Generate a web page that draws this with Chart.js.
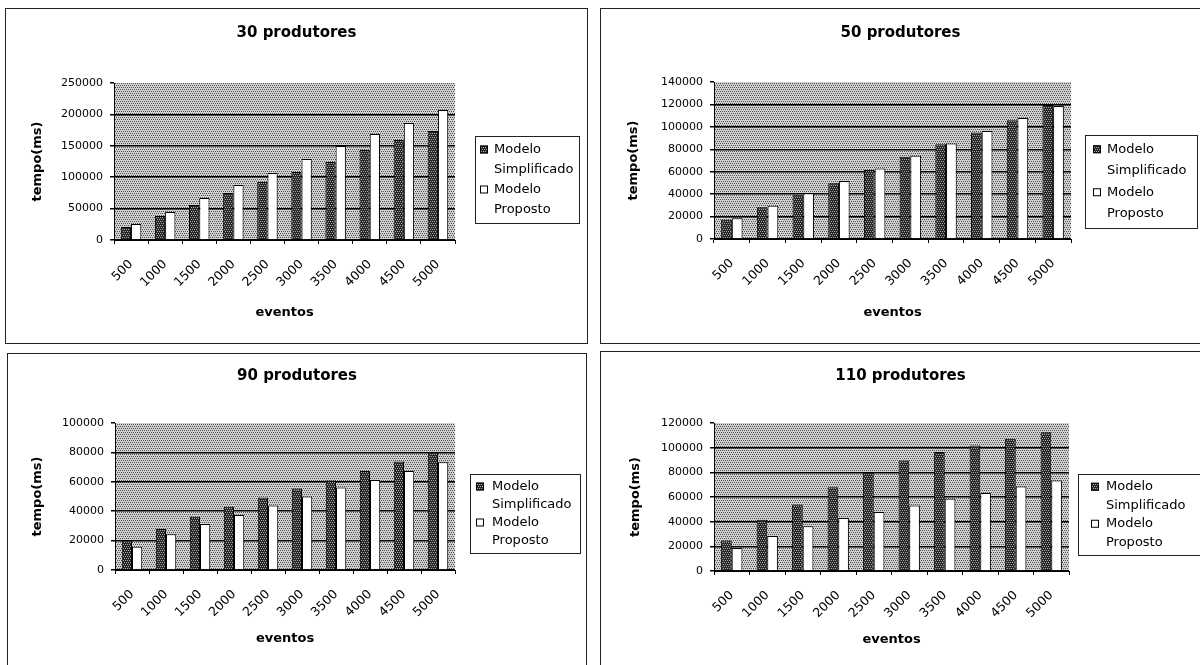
<!DOCTYPE html>
<html>
<head>
<meta charset="utf-8">
<script src="https://cdn.jsdelivr.net/npm/chart.js@4.4.1/dist/chart.umd.min.js"></script>
<style>
  html, body { margin:0; padding:0; background:#fff; width:1200px; height:665px; overflow:hidden; }
  .painel { position:absolute; border:1px solid #222; box-sizing:border-box; }
  canvas { position:absolute; }
</style>
</head>
<body>
<div class="painel" style="left:5px;top:8px;width:583px;height:336px"></div>
<div class="painel" style="left:600px;top:8px;width:620px;height:336px"></div>
<div class="painel" style="left:7px;top:353px;width:580px;height:330px"></div>
<div class="painel" style="left:600px;top:351px;width:620px;height:330px"></div>
<canvas id="c0"></canvas>
<canvas id="c1"></canvas>
<canvas id="c2"></canvas>
<canvas id="c3"></canvas>
<script>
// dados
const eventos = ['500', '1000', '1500', '2000', '2500', '3000', '3500', '4000', '4500', '5000'];
const titulos = ['30 produtores', '50 produtores', '90 produtores', '110 produtores'];
const serieNomes = ['Modelo Simplificado', 'Modelo Proposto'];

const simplificado30 = [20700, 38200, 55700, 74800, 92400, 108300, 124200, 143300, 159200, 173600];
const proposto30     = [25500, 44600, 66900, 87600, 106700, 129000, 149700, 168800, 186300, 207000];
const simplificado50 = [17200, 28400, 39100, 49700, 61600, 73400, 84400, 95000, 106000, 119500];
const proposto50     = [18600, 29600, 40800, 51800, 62800, 74300, 85200, 96200, 108000, 118500];
const simplificado90 = [20000, 27900, 36300, 43100, 49300, 55400, 60800, 67400, 73800, 80100];
const proposto90     = [15900, 24300, 31300, 37500, 43800, 50000, 56100, 61300, 67400, 73300];
const simplificado110 = [24800, 41600, 54000, 68000, 79600, 89600, 96400, 101800, 107200, 112600];
const proposto110     = [18600, 28400, 36200, 42900, 47800, 53200, 58600, 63200, 68600, 73400];

const yMax   = [250000, 140000, 100000, 120000];
const yPasso = [50000, 20000, 20000, 20000];

// posicoes de cada painel (canvas e area do grafico, em px do canvas)
const paineis = [
  { left:6,   top:9,   w:581, h:334, area:{ l:108, r:449, t:74, b:231 }, titleY:24, xTitleY:304, yTitleX:32,
    legend:{ x:469, y:127, w:104, h:87, sw:5, tx:19 } },
  { left:601, top:9,   w:599, h:334, area:{ l:113, r:470, t:73, b:230 }, titleY:24, xTitleY:304, yTitleX:33,
    legend:{ x:484, y:126, w:112, h:93, sw:8, tx:22 } },
  { left:8,   top:354, w:578, h:311, area:{ l:107, r:447, t:69, b:216 }, titleY:22, xTitleY:285, yTitleX:30,
    legend:{ x:462, y:120, w:110, h:79, sw:6, tx:22 } },
  { left:601, top:352, w:599, h:313, area:{ l:113, r:468, t:71, b:219 }, titleY:24, xTitleY:288, yTitleX:35,
    legend:{ x:477, y:122, w:125, h:81, sw:13, tx:28 } }
];

Chart.defaults.font.family = '"DejaVu Sans", sans-serif';
Chart.defaults.color = '#000';

function padrao(bg, fg){
  const c = document.createElement('canvas');
  c.width = 4; c.height = 4;
  const g = c.getContext('2d');
  g.fillStyle = bg; g.fillRect(0, 0, 4, 4);
  g.fillStyle = fg;
  [[0,0],[2,0],[1,2],[3,2]].forEach(([x,y]) => g.fillRect(x, y, 1, 1));
  return g.createPattern(c, 'repeat');
}
const padraoFundo = padrao('#d0d0d0', '#505050');
const padraoEscuro = padrao('#262626', '#a8a8a8');

// fundo pontilhado da area do grafico
const fundoPlot = {
  id: 'fundoPlot',
  beforeDraw(chart){
    const a = chart.chartArea, ctx = chart.ctx;
    ctx.save();
    ctx.fillStyle = padraoFundo;
    ctx.fillRect(a.left, a.top, a.right - a.left, a.bottom - a.top);
    ctx.restore();
  }
};

// legenda em caixa, nome da serie em duas linhas
const legendaBox = {
  id: 'legendaBox',
  afterDraw(chart, args, opts){
    const b = opts.box, ctx = chart.ctx;
    ctx.save();
    ctx.fillStyle = '#fff';
    ctx.fillRect(b.x, b.y, b.w, b.h);
    ctx.strokeStyle = '#222'; ctx.lineWidth = 1;
    ctx.strokeRect(b.x + 0.5, b.y + 0.5, b.w, b.h);
    const lh = (b.h - 7) / 4;
    ctx.font = '13px "DejaVu Sans"';
    ctx.textBaseline = 'middle';
    chart.data.datasets.forEach((ds, i) => {
      const y0 = b.y + 3.5 + lh * (2 * i + 0.5);
      ctx.fillStyle = ds.backgroundColor;
      ctx.fillRect(b.x + b.sw, y0 - 4, 8, 8);
      ctx.strokeStyle = '#000';
      ctx.strokeRect(b.x + b.sw + 0.5, y0 - 3.5, 7, 7);
      ctx.fillStyle = '#000';
      const i0 = ds.label.indexOf(' ');
      ctx.fillText(ds.label.slice(0, i0), b.x + b.tx, y0);
      ctx.fillText(ds.label.slice(i0 + 1), b.x + b.tx, y0 + lh);
    });
    ctx.restore();
  }
};

function desenha(i, simp, prop){
  const p = paineis[i];
  const cv = document.getElementById('c' + i);
  cv.width = p.w; cv.height = p.h;
  cv.style.left = p.left + 'px'; cv.style.top = p.top + 'px';
  cv.style.width = p.w + 'px'; cv.style.height = p.h + 'px';
  const tTop = p.titleY - 9;
  new Chart(cv, {
    type: 'bar',
    data: {
      labels: eventos,
      datasets: [
        { label: serieNomes[0], data: simp, backgroundColor: padraoEscuro, borderColor: '#000', borderWidth: 1 },
        { label: serieNomes[1], data: prop, backgroundColor: '#fff', borderColor: '#000', borderWidth: 1 }
      ]
    },
    options: {
      responsive: false,
      animation: false,
      layout: { padding: 0 },
      datasets: { bar: { categoryPercentage: 0.6, barPercentage: 1.0 } },
      plugins: {
        legend: { display: false },
        tooltip: { enabled: false },
        title: { display: true, text: titulos[i], color: '#000', font: { size: 15, weight: 'bold' },
                 padding: { top: tTop, bottom: p.area.t - tTop - 18 } },
        legendaBox: { box: p.legend }
      },
      scales: {
        x: {
          grid: { drawOnChartArea: false, tickLength: 4, color: '#000' },
          border: { color: '#000', width: 1 },
          ticks: { minRotation: 45, maxRotation: 45, padding: 13, color: '#000', font: { size: 12.5 } },
          title: { display: true, text: 'eventos', color: '#000', font: { size: 13, weight: 'bold' },
                   padding: { top: 0, bottom: p.h - p.xTitleY - 7.8 } },
          afterFit: s => { s.height = p.h - p.area.b; }
        },
        y: {
          min: 0, max: yMax[i],
          ticks: { stepSize: yPasso[i], padding: 7, color: '#000', font: { size: 11 }, callback: v => String(v) },
          grid: { color: c => (c.tick && c.tick.value === yMax[i]) ? 'rgba(0,0,0,0)' : '#000',
                  tickColor: '#000', tickLength: 4, lineWidth: 1.5 },
          border: { color: '#000', width: 1 },
          title: { display: true, text: 'tempo(ms)', color: '#000', font: { size: 13, weight: 'bold' },
                   padding: { top: p.yTitleX - 7.8, bottom: 0 } },
          afterFit: s => { s.width = p.area.l; }
        },
        espaco: {
          type: 'linear', position: 'right', display: true,
          grid: { display: false }, ticks: { display: false }, border: { display: false },
          afterFit: s => { s.width = p.w - p.area.r; }
        }
      }
    },
    plugins: [fundoPlot, legendaBox]
  });
}

desenha(0, simplificado30, proposto30);
desenha(1, simplificado50, proposto50);
desenha(2, simplificado90, proposto90);
desenha(3, simplificado110, proposto110);
</script>
</body>
</html>
